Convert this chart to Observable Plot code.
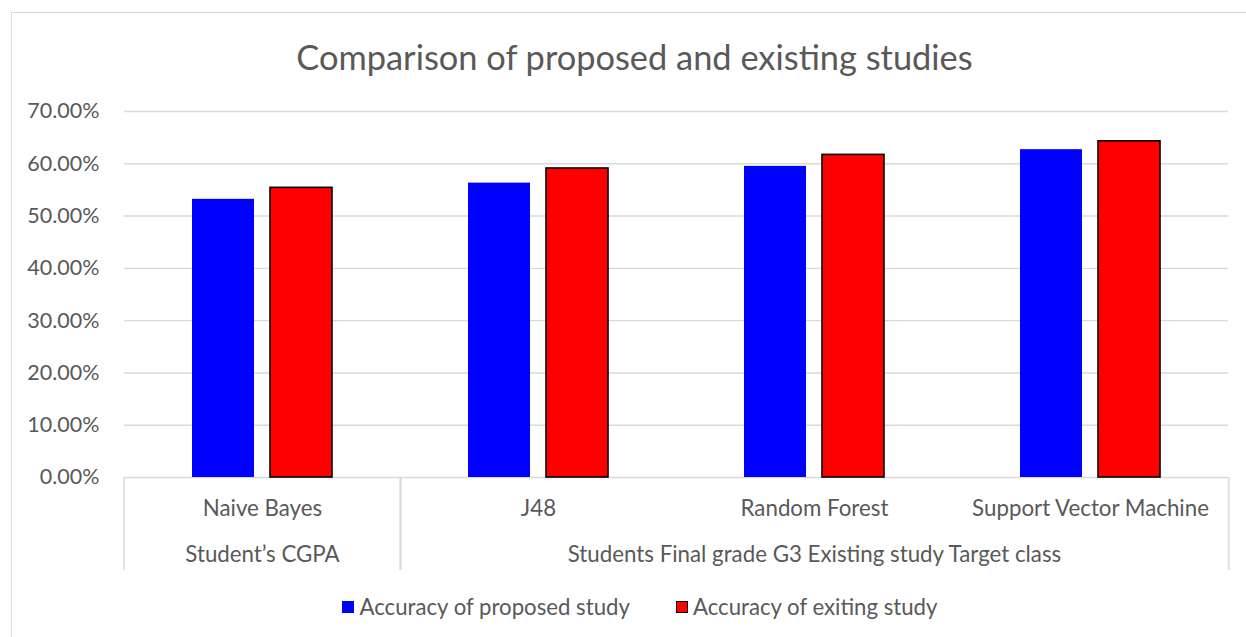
<!DOCTYPE html>
<html>
<head>
<meta charset="utf-8">
<script src="https://cdn.jsdelivr.net/npm/d3@7"></script>
<script src="https://cdn.jsdelivr.net/npm/@observablehq/plot@0.6"></script>
<style>
  body { margin: 0; background: #fff; font-family: Lato, "Open Sans", sans-serif; color: #595959; }
  #box { position: absolute; left: 11px; top: 12px; width: 1250px; height: 660px; border: 1px solid #d9d9d9; box-sizing: border-box; }
  #title { position: absolute; left: 0; width: 1269px; top: 35px; text-align: center; font-size: 34.4px; line-height: 44px; white-space: nowrap; }
  #chart { position: absolute; left: 0; top: 95px; }
  #legend { position: absolute; left: 0; width: 1280px; top: 592px; text-align: center; font-size: 22.2px; line-height: 26px; white-space: nowrap; }
  .item { display: inline-flex; align-items: center; margin: 0 23px; }
  .swatch { display: inline-block; width: 12px; height: 12px; margin-right: 5px; box-sizing: border-box; }
</style>
</head>
<body>
<div id="box"></div>
<div id="title">Comparison of proposed and existing studies</div>
<div id="chart"></div>
<div id="legend"></div>
<script>
// Classifiers compared, and the study grouping shown on the second axis row
const categories = ["Naive Bayes", "J48", "Random Forest", "Support Vector Machine"];
const groups = ["Student’s CGPA", "Students Final grade G3 Existing study Target class"];
const categoryGroup = [groups[0], groups[1], groups[1], groups[1]];

// Series
const seriesNames = ["Accuracy of proposed study", "Accuracy of exiting study"];
const seriesColors = ["#0000ff", "#ff0000"];
const proposedAccuracy = [0.532, 0.563, 0.595, 0.627];
const existingAccuracy = [0.554, 0.591, 0.617, 0.643];

// Value axis ticks
const yTicks = [0, 0.1, 0.2, 0.3, 0.4, 0.5, 0.6, 0.7];

const rows = categories.flatMap((c, i) => [
  {category: c, series: seriesNames[0], value: proposedAccuracy[i]},
  {category: c, series: seriesNames[1], value: existingAccuracy[i]}
]);

// First and last category of each group get the vertical separators
const groupStarts = groups.map(g => categories[categoryGroup.indexOf(g)]);
const groupEnds = groups.map(g => categories[categoryGroup.lastIndexOf(g)]);
// Group label sits under the middle category of its span
const groupLabels = groups.map(g => {
  const members = categories.filter((c, i) => categoryGroup[i] === g);
  return {group: g, anchor: members[Math.floor(members.length / 2)]};
});

const W = 1246, H = 480, mL = 122, mR = 17, mT = 16, mB = 98;
const facetW = (W - mL - mR) / categories.length;
const grey = "#d9d9d9", ink = "#595959";
const labelSize = 22.3;

const chart = Plot.plot({
  width: W,
  height: H,
  marginLeft: mL,
  marginRight: mR,
  marginTop: mT,
  marginBottom: mB,
  style: {fontFamily: "Lato, 'Open Sans', sans-serif", fontSize: "21.5px", color: ink, background: "transparent"},
  fx: {domain: categories, padding: 0, axis: null},
  x: {domain: seriesNames, paddingInner: 0.205, paddingOuter: 0.86, axis: null},
  y: {domain: [0, 0.7], axis: null},
  marks: [
    Plot.ruleY(yTicks, {stroke: grey, strokeWidth: 1.4}),
    Plot.axisY(yTicks, {
      tickSize: 0, tickPadding: 25, label: null, color: ink, fontSize: 21.5,
      tickFormat: d => (d * 100).toFixed(2) + "%"
    }),
    Plot.barY(rows, {
      filter: d => d.series === seriesNames[0],
      fx: "category", x: "series", y: "value", fill: seriesColors[0]
    }),
    Plot.barY(rows, {
      filter: d => d.series === seriesNames[1],
      fx: "category", x: "series", y: "value", fill: seriesColors[1],
      stroke: "#000", strokeWidth: 1.6
    }),
    // category separators below the axis
    Plot.ruleX(groupStarts, {x: null, fx: d => d, y1: 0, y2: 0, insetBottom: -93, dx: -facetW / 2, stroke: grey, strokeWidth: 1.4}),
    Plot.ruleX(groupEnds, {x: null, fx: d => d, y1: 0, y2: 0, insetBottom: -93, dx: facetW / 2, stroke: grey, strokeWidth: 1.4}),
    // category names
    Plot.text(categories, {fx: d => d, text: d => d, frameAnchor: "bottom", dy: 38, fill: ink, fontSize: labelSize}),
    // group names
    Plot.text(groupLabels, {fx: "anchor", text: "group", frameAnchor: "bottom", dy: 84, fill: ink, fontSize: labelSize})
  ]
});
document.getElementById("chart").appendChild(chart);

// Legend
const legend = d3.select("#legend");
seriesNames.forEach((name, i) => {
  const item = legend.append("span").attr("class", "item");
  item.append("span").attr("class", "swatch")
    .style("background", seriesColors[i])
    .style("border", i === 1 ? "1.5px solid #000" : "none");
  item.append("span").text(name);
});
</script>
</body>
</html>
